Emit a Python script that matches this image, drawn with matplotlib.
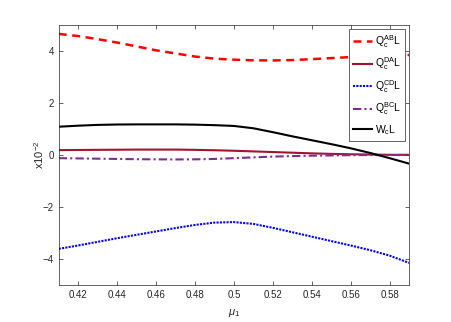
import numpy as np
import matplotlib
matplotlib.use("Agg")
import matplotlib.pyplot as plt
from matplotlib.ticker import FuncFormatter

mu1 = [0.41, 0.42, 0.43, 0.44, 0.45, 0.46, 0.47, 0.48, 0.49, 0.50,
       0.51, 0.52, 0.53, 0.54, 0.55, 0.56, 0.57, 0.58, 0.59]
Q_AB = [4.66, 4.58, 4.46, 4.33, 4.18, 4.03, 3.91, 3.79, 3.71, 3.67,
        3.645, 3.64, 3.655, 3.69, 3.73, 3.77, 3.80, 3.83, 3.85]
Q_DA = [0.19, 0.195, 0.20, 0.205, 0.21, 0.21, 0.21, 0.20, 0.185, 0.165,
        0.14, 0.115, 0.09, 0.065, 0.045, 0.03, 0.02, 0.01, 0.01]
Q_CD = [-3.61, -3.48, -3.34, -3.20, -3.07, -2.94, -2.81, -2.69, -2.60, -2.58,
        -2.65, -2.80, -2.97, -3.14, -3.31, -3.48, -3.66, -3.87, -4.15]
Q_BC = [-0.12, -0.13, -0.14, -0.15, -0.16, -0.165, -0.17, -0.165, -0.15, -0.12,
        -0.09, -0.06, -0.04, -0.025, -0.015, -0.005, 0.0, 0.0, 0.0]
W = [1.09, 1.13, 1.16, 1.175, 1.18, 1.18, 1.18, 1.17, 1.15, 1.12,
     1.03, 0.88, 0.72, 0.57, 0.42, 0.26, 0.08, -0.12, -0.33]

labels = [r'$\mathregular{Q_c^{AB}L}$', r'$\mathregular{Q_c^{DA}L}$',
          r'$\mathregular{Q_c^{CD}L}$', r'$\mathregular{Q_c^{BC}L}$',
          r'$\mathregular{W_cL}$']
xticks = [0.42, 0.44, 0.46, 0.48, 0.50, 0.52, 0.54, 0.56, 0.58]
yticks = [-4, -2, 0, 2, 4]

plt.rcParams['font.family'] = ['Liberation Sans', 'DejaVu Sans']
plt.rcParams['mathtext.fontset'] = 'custom'
plt.rcParams['mathtext.rm'] = 'Liberation Sans'
plt.rcParams['mathtext.it'] = 'Liberation Sans:italic'

axc = '#262626'
fig = plt.figure(figsize=(4.52, 3.22), dpi=100)
ax = fig.add_axes([0.13, 0.115, 0.775, 0.807])

ax.plot(mu1, Q_AB, color='#FF0000', lw=1.8, dashes=(3.2, 2.2), label=labels[0])
ax.plot(mu1, Q_DA, color='#A2142F', lw=1.5, label=labels[1])
ax.plot(mu1, Q_CD, color='#0000FF', lw=1.5, linestyle=(0, (1, 0.6)), label=labels[2])
ax.plot(mu1, Q_BC, color='#7E2F8E', lw=1.5, linestyle=(0, (4, 1.5, 1, 1.5)), label=labels[3])
ax.plot(mu1, W, color='black', lw=1.5, label=labels[4])

ax.set_xlim(0.41, 0.59)
ax.set_ylim(-5, 5)
ax.set_xticks(xticks)
ax.set_yticks(yticks)
ax.xaxis.set_major_formatter(FuncFormatter(lambda v, p: '%g' % round(v, 2)))
ax.tick_params(direction='in', top=True, right=True, labelsize=7,
               colors=axc, length=3, width=0.5)
for s in ax.spines.values():
    s.set_color(axc)
    s.set_linewidth(0.5)

ax.set_xlabel(r'$\mu_1$', fontsize=8, color=axc, labelpad=5)
ax.set_ylabel(r'x10$^{-2}$', fontsize=8, color=axc, labelpad=-2)

leg = ax.legend(loc='upper right', fontsize=7.5, fancybox=False,
                edgecolor=axc, framealpha=1, handlelength=1.8,
                borderaxespad=0.35, borderpad=0.4, labelspacing=0.55,
                handletextpad=0.25)
leg.get_frame().set_linewidth(0.5)

fig.savefig('out.png', dpi=100)
